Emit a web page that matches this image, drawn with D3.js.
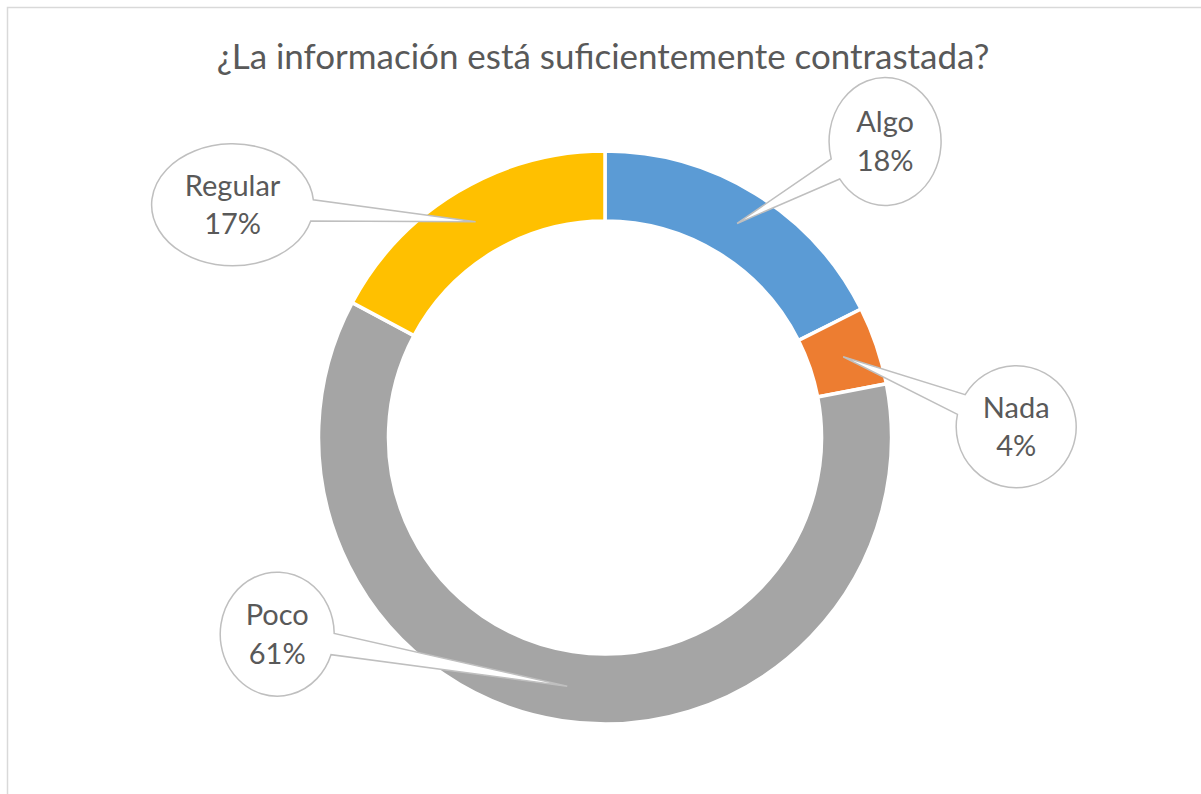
<!DOCTYPE html>
<html>
<head>
<meta charset="utf-8">
<script src="https://cdn.jsdelivr.net/npm/d3@7"></script>
<style>
    body { margin: 0; background: #fff; }
    text { font-family: "Lato", "Open Sans", sans-serif; fill: #595959; }
</style>
</head>
<body>
<svg id="chart" width="1201" height="794"></svg>
<script>
// data
var title = "¿La información está suficientemente contrastada?";
var categories = ["Algo", "Nada", "Poco", "Regular"];
var values = [17.6, 4.4, 60.8, 17.2];
var colors = ["#5B9BD5", "#ED7D31", "#A5A5A5", "#FFC000"];

// callout layout: offset of the bubble centre from the slice centroid, and bubble radii
var callouts = [
    { dx: 148, dy: -82, rx: 56, ry: 64 },
    { dx: 173, dy: 70, rx: 60, ry: 61 },
    { dx: -290, dy: -52, rx: 57, ry: 62 },
    { dx: -243, dy: -17, rx: 81, ry: 61 }
];

var svg = d3.select("#chart");
var cx = 605, cy = 437.5;

// chart area border (only top and left edges are visible)
svg.append("path")
    .attr("d", "M7.5,794V7.5H1201")
    .attr("fill", "none")
    .attr("stroke", "#D9D9D9")
    .attr("stroke-width", 1.5);

// title, sized to span the same width as the original
var t = svg.append("text")
    .attr("x", 603)
    .attr("y", 69)
    .attr("text-anchor", "middle")
    .style("font-size", "32px")
    .text(title);
var tw = t.node().getComputedTextLength();
t.style("font-size", (32 * 773 / tw) + "px");

var total = d3.sum(values);
var pie = d3.pie().sort(null).value(d => d)(values);

var arc = d3.arc()
    .innerRadius(216.5)
    .outerRadius(286.5);

var g = svg.append("g")
    .attr("transform", "translate(" + cx + "," + cy + ")");

g.selectAll("path.slice")
    .data(pie)
    .enter()
    .append("path")
    .attr("class", "slice")
    .attr("d", arc)
    .attr("fill", (d, i) => colors[i])
    .attr("stroke", "#fff")
    .attr("stroke-width", 3.5);

// bubble callouts (ellipse with a wedge pointing to the slice centroid)
function calloutPath(tip, c) {
    var ox = tip[0] + c.dx, oy = tip[1] + c.dy;
    // direction to the tip in the ellipse's normalised space
    var a = Math.atan2((tip[1] - oy) / c.ry, (tip[0] - ox) / c.rx);
    var da = 10 * Math.PI / 180;
    var a1 = a + da, a2 = a - da;
    var p1 = [ox + c.rx * Math.cos(a1), oy + c.ry * Math.sin(a1)];
    var p2 = [ox + c.rx * Math.cos(a2), oy + c.ry * Math.sin(a2)];
    return "M" + p1[0] + "," + p1[1] +
        "A" + c.rx + "," + c.ry + " 0 1 1 " + p2[0] + "," + p2[1] +
        "L" + tip[0] + "," + tip[1] + "Z";
}

var labels = g.selectAll("g.callout")
    .data(pie)
    .enter()
    .append("g")
    .attr("class", "callout");

labels.append("path")
    .attr("d", (d, i) => calloutPath(arc.centroid(d), callouts[i]))
    .attr("fill", "#fff")
    .attr("stroke", "#BFBFBF")
    .attr("stroke-width", 1.5);

labels.append("text")
    .attr("text-anchor", "middle")
    .style("font-size", "29px")
    .attr("x", (d, i) => arc.centroid(d)[0] + callouts[i].dx)
    .attr("y", (d, i) => arc.centroid(d)[1] + callouts[i].dy - 9)
    .text((d, i) => categories[i]);

labels.append("text")
    .attr("text-anchor", "middle")
    .style("font-size", "29px")
    .attr("x", (d, i) => arc.centroid(d)[0] + callouts[i].dx)
    .attr("y", (d, i) => arc.centroid(d)[1] + callouts[i].dy + 29.5)
    .text(d => Math.round(d.value / total * 100) + "%");
</script>
</body>
</html>
